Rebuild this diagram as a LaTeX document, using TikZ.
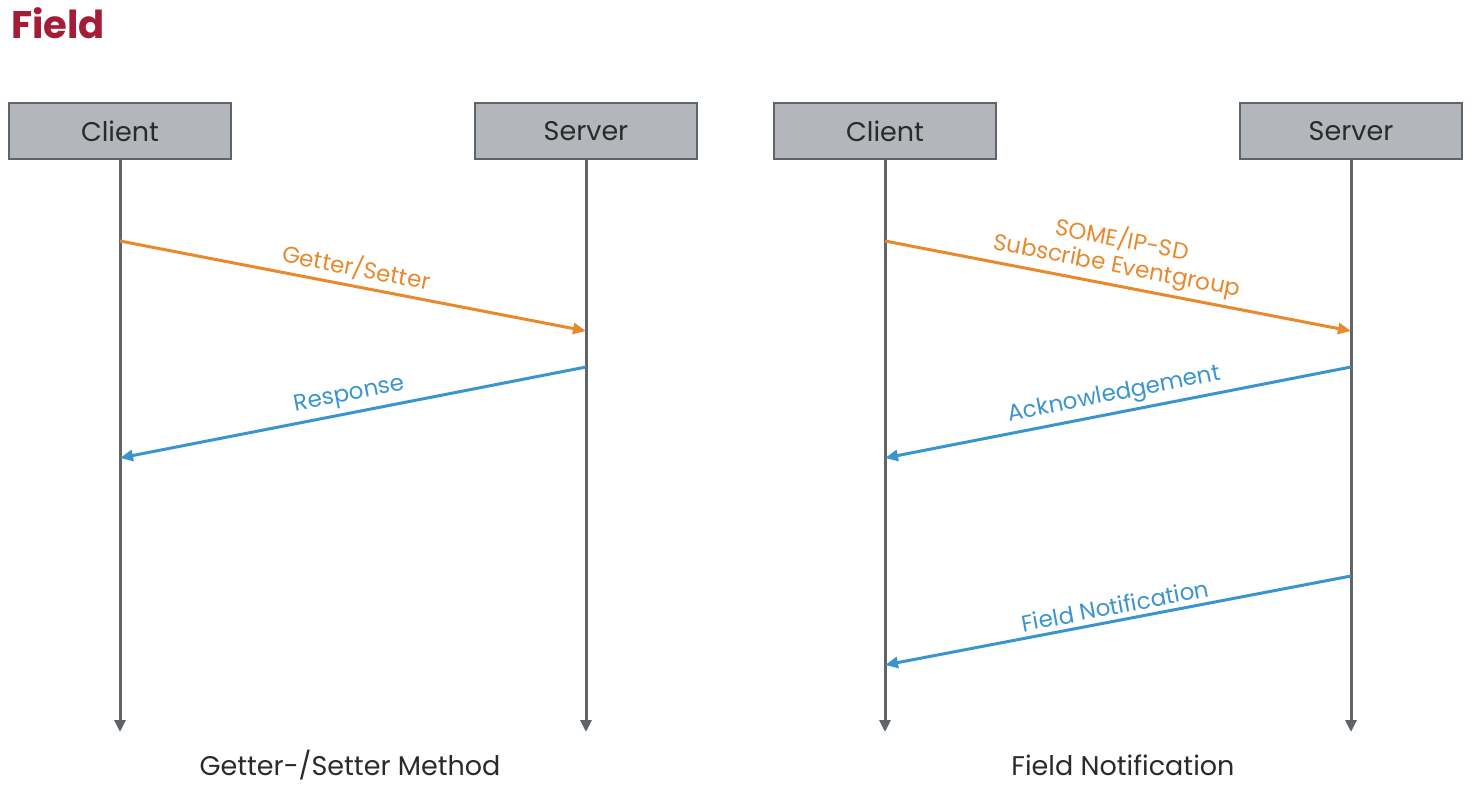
\documentclass[tikz,border=0pt]{standalone}
\usepackage{fontspec}
\setmainfont{Poppins}
\usetikzlibrary{arrows.meta}
\definecolor{titlered}{HTML}{A51C36}
\definecolor{boxfill}{HTML}{B3B6BA}
\definecolor{boxline}{HTML}{5F6468}
\definecolor{lifeline}{HTML}{5F6468}
\definecolor{orangearr}{HTML}{E8892E}
\definecolor{bluearr}{HTML}{3A95CE}
\definecolor{textgray}{HTML}{2A2A2A}
\tikzset{
  actor/.style={draw=boxline, line width=2.5pt, fill=boxfill, minimum width=222pt, minimum height=56pt, inner sep=0pt, text=textgray, font=\fontsize{27}{32}\selectfont},
  life/.style={draw=lifeline, line width=3pt, -{Triangle[length=12pt,width=11pt]}},
  reqarrow/.style={draw=orangearr, line width=3pt, -{Triangle[length=13pt,width=11pt]}},
  resarrow/.style={draw=bluearr, line width=3pt, -{Triangle[length=13pt,width=11pt]}},
  reqlabel/.style={sloped, above, inner sep=6pt, text=orangearr, font=\fontsize{23}{26}\selectfont, align=center},
  reslabel/.style={sloped, above, inner sep=6pt, text=bluearr, font=\fontsize{23}{26}\selectfont},
  caption/.style={anchor=base, inner sep=0pt, text=textgray, font=\fontsize{27}{32}\selectfont}
}
\begin{document}
\begin{tikzpicture}[x=1pt,y=-1pt]
\useasboundingbox (0,0) rectangle (1476,785);
\node[anchor=west, text=titlered, font=\fontsize{38.5}{44}\selectfont\bfseries, inner sep=0pt] (title) at (11,23) {Field};
% actors
\node[actor] (c1) at (120,131) {Client};
\node[actor] (s1) at (586,131) {Server};
\node[actor] (c2) at (885,131) {Client};
\node[actor] (s2) at (1351,131) {Server};
% lifeline ends
\coordinate (c1e) at (120,732);
\coordinate (s1e) at (586,732);
\coordinate (c2e) at (885,732);
\coordinate (s2e) at (1351,732);
\draw[life] (c1.south) -- (c1e);
\draw[life] (s1.south) -- (s1e);
\draw[life] (c2.south) -- (c2e);
\draw[life] (s2.south) -- (s2e);
% message points
\coordinate (a1) at (120,241);
\coordinate (a2) at (586,331);
\coordinate (b1) at (586,367);
\coordinate (b2) at (120,458);
\coordinate (d1) at (885,241);
\coordinate (d2) at (1351,331);
\coordinate (e1) at (1351,367);
\coordinate (e2) at (885,458);
\coordinate (f1) at (1351,576);
\coordinate (f2) at (885,665);
% left
\draw[reqarrow] (a1) -- (a2);
\path (a1) -- node[reqlabel] {Getter/Setter} (a2);
\draw[resarrow] (b1) -- (b2);
\path (b2) -- node[reslabel] {Response} (b1);
% right
\draw[reqarrow] (d1) -- (d2);
\path (d1) -- node[reqlabel, pos=0.49] {SOME/IP-SD\\Subscribe Eventgroup} (d2);
\draw[resarrow] (e1) -- (e2);
\path (e2) -- node[reslabel] {Acknowledgement} (e1);
\draw[resarrow] (f1) -- (f2);
\path (f2) -- node[reslabel] {Field Notification} (f1);
% captions
\node[caption] (cap1) at (350,775) {Getter-/Setter Method};
\node[caption] (cap2) at (1123,775) {Field Notification};
\end{tikzpicture}
\end{document}
